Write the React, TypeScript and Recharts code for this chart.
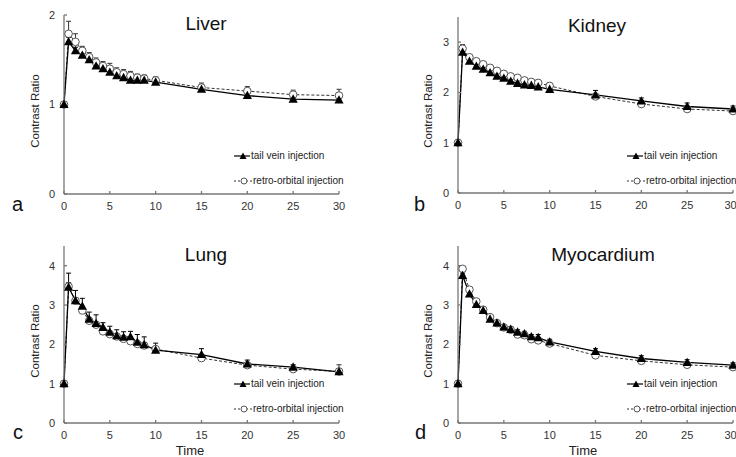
import { LineChart, Line, XAxis, YAxis, ErrorBar, Legend } from 'recharts'

const FONT = '"Liberation Sans", Arial, sans-serif'

// sampling times (min)
const times = [0, 0.5, 1.25, 2, 2.75, 3.5, 4.25, 5, 5.75, 6.5, 7.25, 8, 8.75, 10, 15, 20, 25, 30]
const xTicks = [0, 5, 10, 15, 20, 25, 30]

const liverTail = [1.0, 1.7, 1.6, 1.55, 1.5, 1.43, 1.4, 1.36, 1.32, 1.3, 1.27, 1.27, 1.27, 1.25, 1.17, 1.1, 1.06, 1.05]
const liverRetro = [1.0, 1.79, 1.7, 1.6, 1.53, 1.47, 1.43, 1.4, 1.36, 1.34, 1.32, 1.3, 1.29, 1.27, 1.19, 1.15, 1.11, 1.1]
const liverTailErr = [0, 0.05, 0.04, 0.04, 0.04, 0.04, 0.04, 0.04, 0.04, 0.04, 0.04, 0.04, 0.04, 0.04, 0.04, 0.03, 0.03, 0.03]
const liverRetroErr = [0, 0.14, 0.09, 0.05, 0.05, 0.05, 0.05, 0.06, 0.05, 0.05, 0.05, 0.04, 0.04, 0.04, 0.05, 0.05, 0.05, 0.07]

const kidneyTail = [1.0, 2.8, 2.62, 2.52, 2.46, 2.39, 2.32, 2.28, 2.22, 2.18, 2.15, 2.14, 2.11, 2.06, 1.95, 1.83, 1.72, 1.67]
const kidneyRetro = [1.0, 2.87, 2.7, 2.62, 2.56, 2.49, 2.43, 2.37, 2.32, 2.29, 2.24, 2.21, 2.19, 2.13, 1.92, 1.77, 1.67, 1.63]
const kidneyTailErr = [0, 0.08, 0.07, 0.07, 0.07, 0.07, 0.07, 0.07, 0.07, 0.07, 0.07, 0.07, 0.07, 0.07, 0.09, 0.06, 0.07, 0.06]
const kidneyRetroErr = [0, 0.08, 0.05, 0.05, 0.05, 0.05, 0.05, 0.05, 0.05, 0.05, 0.05, 0.05, 0.05, 0.06, 0.04, 0.04, 0.04, 0.04]

const lungTail = [1.0, 3.45, 3.11, 2.97, 2.64, 2.53, 2.43, 2.31, 2.22, 2.18, 2.19, 2.05, 1.99, 1.85, 1.74, 1.5, 1.42, 1.3]
const lungRetro = [1.0, 3.47, 3.11, 2.86, 2.6, 2.5, 2.33, 2.26, 2.2, 2.14, 2.08, 2.01, 1.97, 1.88, 1.65, 1.47, 1.37, 1.31]
const lungTailErr = [0, 0.36, 0.26, 0.2, 0.18, 0.22, 0.12, 0.15, 0.15, 0.14, 0.14, 0.2, 0.2, 0.18, 0.15, 0.1, 0.06, 0.05]
const lungRetroErr = [0, 0.1, 0.05, 0.05, 0.05, 0.05, 0.05, 0.05, 0.05, 0.05, 0.05, 0.05, 0.05, 0.05, 0.05, 0.05, 0.05, 0.17]

const myoTail = [1.0, 3.75, 3.28, 3.01, 2.86, 2.64, 2.54, 2.44, 2.38, 2.31, 2.27, 2.19, 2.17, 2.06, 1.82, 1.64, 1.54, 1.47]
const myoRetro = [1.0, 3.92, 3.39, 3.09, 2.88, 2.69, 2.54, 2.43, 2.37, 2.25, 2.23, 2.13, 2.1, 2.02, 1.72, 1.58, 1.48, 1.42]
const myoTailErr = [0, 0.06, 0.06, 0.06, 0.06, 0.06, 0.06, 0.06, 0.06, 0.06, 0.06, 0.06, 0.08, 0.07, 0.07, 0.07, 0.07, 0.06]
const myoRetroErr = [0, 0.05, 0.05, 0.05, 0.05, 0.05, 0.05, 0.05, 0.05, 0.05, 0.05, 0.05, 0.05, 0.05, 0.05, 0.05, 0.05, 0.05]

function rows(tail: number[], retro: number[], tErr: number[], rErr: number[]) {
  return times.map((t, i) => ({
    time: t,
    tail: tail[i],
    retro: retro[i],
    tailErr: [0, tErr[i]],
    retroErr: [0, rErr[i]],
  }))
}

function TriDot(props: any) {
  const { cx, cy } = props
  if (cx == null || cy == null) return null
  return <path d={`M${cx},${cy - 4.8} L${cx + 4.6},${cy + 3.5} L${cx - 4.6},${cy + 3.5} Z`} fill="#000" />
}

function CircleDot(props: any) {
  const { cx, cy } = props
  if (cx == null || cy == null) return null
  return <circle cx={cx} cy={cy} r={3.8} fill="#fff" stroke="#555" strokeWidth={1} />
}

function LegendBox() {
  const row = { display: 'flex', alignItems: 'center', height: 12, whiteSpace: 'nowrap' as const }
  return (
    <div style={{ fontFamily: FONT, fontSize: 10, color: '#222', lineHeight: '12px' }}>
      <div style={row}>
        <svg width={17} height={10}>
          <line x1={0} y1={5} x2={16} y2={5} stroke="#000" strokeWidth={1.2} />
          <path d="M9,1.5 L12.5,8 L5.5,8 Z" fill="#000" />
        </svg>
        <span>tail vein injection</span>
      </div>
      <div style={{ ...row, marginTop: 13 }}>
        <svg width={19} height={10}>
          <line x1={0} y1={5} x2={18} y2={5} stroke="#333" strokeWidth={1} strokeDasharray="2 2" />
          <circle cx={10} cy={5} r={3} fill="#fff" stroke="#555" />
        </svg>
        <span>retro-orbital injection</span>
      </div>
    </div>
  )
}

function YLabel({ lx, ly }: any) {
  return (
    <text x={lx} y={ly} transform={`rotate(-90, ${lx}, ${ly})`} textAnchor="middle"
      fontFamily={FONT} fontSize={11.5} fill="#222">
      Contrast Ratio
    </text>
  )
}

function XLabel({ lx, ly }: any) {
  return (
    <text x={lx} y={ly} textAnchor="middle" fontFamily={FONT} fontSize={13} fill="#222">
      Time
    </text>
  )
}

interface PanelProps {
  data: any[]
  title: string
  titleX: number
  letter: string
  left: number
  top: number
  width: number
  height: number
  marginTop: number
  plotHeight: number
  yWidth: number
  yMax: number
  yTicks: number[]
  showTime: boolean
  timeX: number
  labelX: number
  labelY: number
  legendX: number
  letterX: number
}

function Panel(p: PanelProps) {
  const xHeight = p.height - p.marginTop - p.plotHeight
  const tickStyle = { fontFamily: FONT, fontSize: 11, fill: '#333' }
  return (
    <div style={{ position: 'absolute', left: p.left, top: p.top, width: p.width, height: p.height }}>
      <LineChart width={p.width} height={p.height} data={p.data}
        margin={{ top: p.marginTop, right: p.width - p.yWidth - 275, left: 0, bottom: 0 }}>
        <XAxis dataKey="time" type="number" domain={[0, 30]} ticks={xTicks} height={xHeight}
          stroke="#777" strokeWidth={1.3} tickSize={-3} tickMargin={11} tick={tickStyle}
          label={p.showTime ? <XLabel lx={p.timeX} ly={p.height - 2} /> : undefined} />
        <YAxis type="number" domain={[0, p.yMax]} ticks={p.yTicks} width={p.yWidth}
          stroke="#777" strokeWidth={1.3} tickSize={-3} tickMargin={12} tick={tickStyle}
          label={<YLabel lx={p.labelX} ly={p.labelY} />} />
        <Legend layout="vertical" align="center" verticalAlign="middle" content={<LegendBox />}
          wrapperStyle={{ left: p.legendX, top: 150, width: 120 }} />
        <Line dataKey="retro" stroke="#333" strokeWidth={1} strokeDasharray="3 2"
          dot={<CircleDot />} activeDot={false} isAnimationActive={false}>
          <ErrorBar dataKey="retroErr" direction="y" width={2.5} stroke="#333" strokeWidth={1} />
        </Line>
        <Line dataKey="tail" stroke="#000" strokeWidth={1.3}
          dot={<TriDot />} activeDot={false} isAnimationActive={false}>
          <ErrorBar dataKey="tailErr" direction="y" width={2.5} stroke="#000" strokeWidth={1} />
        </Line>
      </LineChart>
      <div style={{ position: 'absolute', left: p.letterX, top: 194, fontFamily: FONT, fontSize: 20, lineHeight: '20px', color: '#111' }}>
        {p.letter}
      </div>
      <div style={{ position: 'absolute', left: p.titleX - 100, width: 200, top: p.marginTop - 1, textAlign: 'center', fontFamily: FONT, fontSize: 19, lineHeight: '19px', color: '#111' }}>
        {p.title}
      </div>
    </div>
  )
}

export default function App() {
  return (
    <div style={{ position: 'absolute', left: 0, top: 0, width: 736, height: 457, overflow: 'hidden', background: '#fff' }}>
      <Panel data={rows(liverTail, liverRetro, liverTailErr, liverRetroErr)} title="Liver" titleX={206} letter="a"
        left={0} top={0} width={368} height={228} marginTop={15} plotHeight={179} yWidth={64} yMax={2} yTicks={[0, 1, 2]}
        showTime={false} timeX={190} labelX={39} labelY={111} legendX={234} letterX={12} />
      <Panel data={rows(kidneyTail, kidneyRetro, kidneyTailErr, kidneyRetroErr)} title="Kidney" titleX={231} letter="b"
        left={366} top={0} width={370} height={228} marginTop={17} plotHeight={176} yWidth={92} yMax={3.5} yTicks={[0, 1, 2, 3]}
        showTime={false} timeX={217} labelX={66} labelY={111} legendX={261} letterX={48} />
      <Panel data={rows(lungTail, lungRetro, lungTailErr, lungRetroErr)} title="Lung" titleX={206} letter="c"
        left={0} top={228} width={368} height={229} marginTop={18} plotHeight={177} yWidth={64} yMax={4.5} yTicks={[0, 1, 2, 3, 4]}
        showTime={true} timeX={190} labelX={39} labelY={113} legendX={234} letterX={13} />
      <Panel data={rows(myoTail, myoRetro, myoTailErr, myoRetroErr)} title="Myocardium" titleX={237} letter="d"
        left={366} top={228} width={370} height={229} marginTop={18} plotHeight={177} yWidth={92} yMax={4.5} yTicks={[0, 1, 2, 3, 4]}
        showTime={true} timeX={217} labelX={66} labelY={113} legendX={261} letterX={49} />
    </div>
  )
}
